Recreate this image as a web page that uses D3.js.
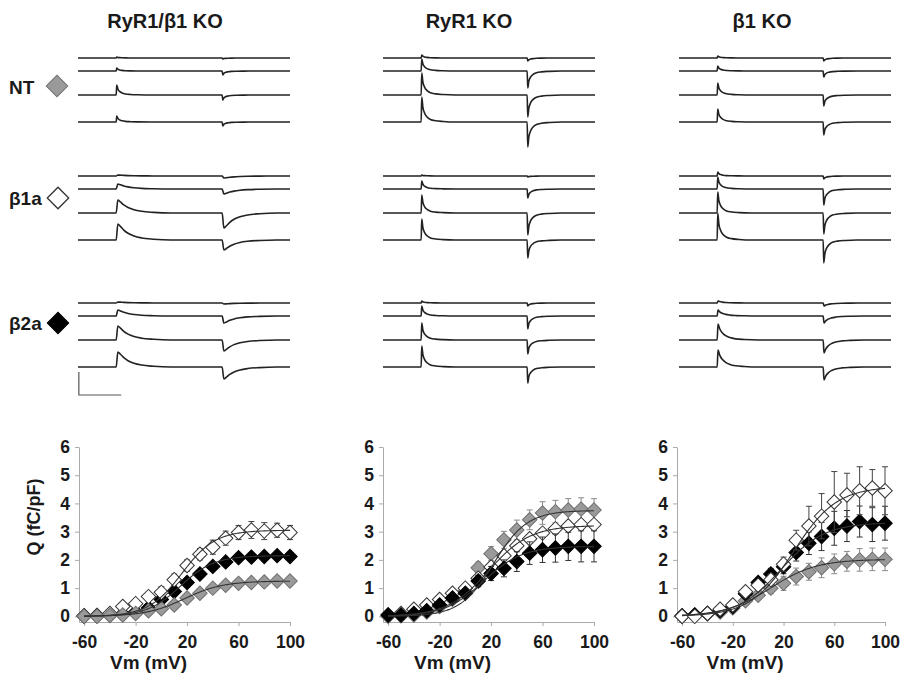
<!DOCTYPE html>
<html>
<head>
<meta charset="utf-8">
<script src="https://cdn.jsdelivr.net/npm/d3@7"></script>
<style>
  body { margin: 0; background: #fff; }
  text { font-family: "Liberation Sans", Arial, sans-serif; font-weight: bold; fill: #1a1a1a; }
</style>
</head>
<body>
<svg id="fig" width="902" height="677"></svg>
<script>
// ---- data ----
const panelTitles = ["RyR1/\u03b21 KO", "RyR1 KO", "\u03b21 KO"];
const conditions = ["NT", "\u03b21a", "\u03b22a"];

// charge movement traces: ON and OFF transient amplitudes (4 test pulses each)
const onRyR1b1 = [[1, 3, 10, 6], [1, 5, 13, 16], [1, 6, 14, 15]];
const offRyR1b1 = [[1, 4, 5, 4], [2, 5, 15, 10], [1, 7, 11, 12]];
const onRyR1 = [[3, 12, 22, 25], [1, 8, 18, 21], [2, 10, 17, 21]];
const offRyR1 = [[3, 17, 22, 25], [1, 9, 22, 18], [3, 13, 14, 16]];
const onB1 = [[2, 5, 12, 13], [4, 12, 21, 27], [2, 6, 16, 17]];
const offB1 = [[3, 6, 11, 13], [3, 16, 21, 23], [3, 7, 13, 13]];

// transient time course (ms after step, normalised amplitude)
const fastT = [0, 0.7, 2, 4, 7, 11, 17, 26, 40];
const fastV = [0, 1, 0.6, 0.36, 0.2, 0.1, 0.05, 0.02, 0];
const midT = [0, 1, 3, 6, 10, 15, 22, 32, 48];
const midV = [0, 1, 0.7, 0.45, 0.27, 0.15, 0.07, 0.03, 0];
const slowT = [0, 2, 5, 9, 14, 21, 30, 44, 64];
const slowV = [0, 1, 0.85, 0.62, 0.42, 0.25, 0.13, 0.05, 0];

// Q-V data
const voltages = [-60, -50, -40, -30, -20, -10, 0, 10, 20, 30, 40, 50, 60, 70, 80, 90, 100];
const xTickValues = [-60, -20, 20, 60, 100];
const yTickValues = [0, 1, 2, 3, 4, 5, 6];

const qNT1 = [0, 0, 0.03, 0.05, 0.1, 0.2, 0.27, 0.4, 0.65, 0.82, 1.0, 1.1, 1.17, 1.2, 1.22, 1.25, 1.25];
const qB1a1 = [0, 0.02, 0.1, 0.35, 0.45, 0.7, 0.85, 1.3, 1.8, 2.2, 2.45, 2.77, 2.97, 3.06, 3.02, 3.05, 2.97];
const qB2a1 = [0.02, 0.03, 0.05, 0.08, 0.15, 0.3, 0.6, 0.88, 1.2, 1.5, 1.77, 1.93, 2.08, 2.1, 2.12, 2.15, 2.12];
const eNT1 = [0.02, 0.02, 0.03, 0.03, 0.05, 0.05, 0.08, 0.08, 0.1, 0.1, 0.12, 0.12, 0.15, 0.15, 0.15, 0.15, 0.15];
const eB1a1 = [0.02, 0.03, 0.05, 0.08, 0.1, 0.12, 0.2, 0.2, 0.2, 0.2, 0.25, 0.25, 0.25, 0.3, 0.3, 0.25, 0.25];
const eB2a1 = [0.02, 0.02, 0.03, 0.03, 0.04, 0.05, 0.06, 0.08, 0.08, 0.1, 0.1, 0.1, 0.12, 0.12, 0.12, 0.12, 0.12];

const qNT2 = [0, 0.02, 0.05, 0.15, 0.35, 0.6, 0.9, 1.72, 2.22, 2.71, 3.06, 3.42, 3.66, 3.71, 3.77, 3.8, 3.77];
const qB1a2 = [0.05, 0.1, 0.25, 0.4, 0.6, 0.82, 1.0, 1.35, 1.75, 2.15, 2.5, 2.75, 2.95, 3.1, 3.2, 3.25, 3.25];
const qB2a2 = [0.05, 0.05, 0.1, 0.2, 0.4, 0.65, 0.82, 1.25, 1.52, 1.7, 1.94, 2.24, 2.36, 2.42, 2.48, 2.48, 2.48];
const eNT2 = [0.02, 0.02, 0.03, 0.05, 0.08, 0.1, 0.15, 0.2, 0.25, 0.3, 0.35, 0.35, 0.4, 0.4, 0.4, 0.4, 0.4];
const eB1a2 = [0.02, 0.02, 0.03, 0.05, 0.05, 0.08, 0.1, 0.1, 0.12, 0.12, 0.15, 0.15, 0.15, 0.15, 0.15, 0.15, 0.15];
const eB2a2 = [0.02, 0.03, 0.05, 0.05, 0.08, 0.1, 0.12, 0.2, 0.25, 0.3, 0.35, 0.4, 0.45, 0.5, 0.5, 0.55, 0.55];

const qNT3 = [0, 0.05, 0.1, 0.15, 0.3, 0.55, 0.75, 1.0, 1.17, 1.41, 1.58, 1.72, 1.86, 1.95, 2.0, 2.02, 2.02];
const qB1a3 = [0, 0, 0.1, 0.25, 0.4, 0.87, 1.1, 1.3, 1.85, 2.7, 3.2, 3.55, 4.05, 4.3, 4.45, 4.55, 4.45];
const qB2a3 = [0.02, 0.05, 0.1, 0.2, 0.35, 0.8, 1.2, 1.5, 1.76, 2.26, 2.59, 2.83, 3.12, 3.2, 3.36, 3.25, 3.3];
const eNT3 = [0.02, 0.02, 0.03, 0.05, 0.08, 0.1, 0.15, 0.2, 0.25, 0.3, 0.3, 0.35, 0.35, 0.35, 0.4, 0.4, 0.4];
const eB1a3 = [0.02, 0.02, 0.05, 0.05, 0.08, 0.1, 0.15, 0.2, 0.25, 0.35, 0.7, 0.8, 1.08, 0.77, 0.85, 0.65, 0.85];
const eB2a3 = [0.02, 0.02, 0.05, 0.05, 0.08, 0.1, 0.15, 0.2, 0.25, 0.3, 0.4, 0.5, 0.6, 0.55, 0.55, 0.6, 0.6];

// Boltzmann fit parameters [NT, b1a, b2a]
const fitQmax1 = [1.25, 3.05, 2.15], fitVhalf1 = [18, 16, 15], fitK1 = [15, 13, 13];
const fitQmax2 = [3.75, 3.22, 2.48], fitVhalf2 = [22, 18, 14], fitK2 = [13, 16, 15];
const fitQmax3 = [2.02, 4.6, 3.32], fitVhalf3 = [10, 28, 18], fitK3 = [18, 17, 17];

// ---- layout ----
const svg = d3.select("#fig");
const traceX0 = [78, 383, 679];
const traceW = 212;
const condTop = [58, 176, 303];
const rowOffset = [0, 13, 37, 64];
const plotX0 = [79, 383, 677];
const plotW = [211, 211, 208];

const panelOn = [onRyR1b1, onRyR1, onB1];
const panelOff = [offRyR1b1, offRyR1, offB1];
const kernels = {
  fast: [fastT, fastV], mid: [midT, midV], slow: [slowT, slowV]
};
const kernelUse = [["fast", "slow", "slow"], ["fast", "fast", "fast"], ["fast", "fast", "mid"]];

const panelQ = [[qNT1, qB1a1, qB2a1], [qNT2, qB1a2, qB2a2], [qNT3, qB1a3, qB2a3]];
const panelE = [[eNT1, eB1a1, eB2a1], [eNT2, eB1a2, eB2a2], [eNT3, eB1a3, eB2a3]];
const panelFit = [[fitQmax1, fitVhalf1, fitK1], [fitQmax2, fitVhalf2, fitK2], [fitQmax3, fitVhalf3, fitK3]];
const drawOrder = [[2, 1, 0], [0, 1, 2], [0, 2, 1]];

const markFill = ["#9a9a9a", "#fff", "#000"];
const markStroke = ["#707070", "#333", "#000"];
const barColor = ["#8a8a8a", "#444", "#333"];

const diamond = (size) => d3.symbol().type(d3.symbolSquare).size(size)();

// ---- titles ----
const titleX = [165, 469, 762];
svg.selectAll(".title").data(panelTitles).enter().append("text")
  .attr("class", "title")
  .attr("x", (d, i) => titleX[i])
  .attr("y", 28)
  .attr("text-anchor", "middle")
  .attr("font-size", 20)
  .text(d => d);

// ---- row labels ----
const labelY = [94, 205, 330];
const labelMarkX = [57, 58, 58];
const labelMarkY = [86, 198, 323];
conditions.forEach((c, i) => {
  svg.append("text").attr("x", 9).attr("y", labelY[i]).attr("font-size", 19).text(c);
  svg.append("path")
    .attr("d", diamond(230))
    .attr("transform", `translate(${labelMarkX[i]},${labelMarkY[i]}) rotate(45)`)
    .attr("fill", markFill[i])
    .attr("stroke", markStroke[i])
    .attr("stroke-width", i === 1 ? 1.3 : 1);
});

// ---- traces ----
const tOn = 45, tOff = 170;
const ampScale = d3.scaleLinear().domain([0, 10]).range([0, 10]);

function tracePoints(on, off, kT, kV) {
  const pts = [[0, 0], [tOn, 0]];
  for (let i = 1; i < kT.length; i++) pts.push([tOn + kT[i], on * kV[i]]);
  pts.push([tOff, 0]);
  for (let i = 1; i < kT.length; i++) pts.push([tOff + kT[i], -off * kV[i]]);
  pts.push([250, 0]);
  return pts;
}

panelOn.forEach((onSet, p) => {
  const tx = d3.scaleLinear().domain([0, 250]).range([traceX0[p], traceX0[p] + traceW]);
  onSet.forEach((onRow, c) => {
    const [kT, kV] = kernels[kernelUse[p][c]];
    onRow.forEach((onAmp, r) => {
      const base = condTop[c] + rowOffset[r];
      const line = d3.line()
        .x(d => tx(d[0]))
        .y(d => base - ampScale(d[1]))
        .curve(d3.curveMonotoneX);
      svg.append("path")
        .attr("d", line(tracePoints(onAmp, panelOff[p][c][r], kT, kV)))
        .attr("fill", "none")
        .attr("stroke", "#222")
        .attr("stroke-width", 1.6);
    });
  });
});

// scale bar (50 ms)
const sbx = d3.scaleLinear().domain([0, 250]).range([traceX0[0], traceX0[0] + traceW]);
svg.append("path")
  .attr("d", `M${sbx(1)},${372}V${395}H${sbx(51)}`)
  .attr("fill", "none")
  .attr("stroke", "#555")
  .attr("stroke-width", 1.2);

// ---- Q-V plots ----
const y = d3.scaleLinear().domain([-0.2, 6]).range([622, 447]);
const plainFmt = d => String(d);

panelQ.forEach((qSet, p) => {
  const x = d3.scaleLinear().domain([-64, 100]).range([plotX0[p], plotX0[p] + plotW[p]]);
  const g = svg.append("g");

  const yAxis = g.append("g")
    .attr("transform", `translate(${plotX0[p]},0)`)
    .call(d3.axisLeft(y).tickValues(yTickValues).tickFormat(plainFmt).tickSize(4).tickSizeOuter(0).tickPadding(5));
  const xAxis = g.append("g")
    .attr("transform", `translate(0,${y(-0.2)})`)
    .call(d3.axisBottom(x).tickValues(xTickValues).tickFormat(plainFmt).tickSize(4).tickSizeOuter(0).tickPadding(10));
  [yAxis, xAxis].forEach(a => {
    a.attr("font-family", null).attr("font-size", 17.5);
    a.selectAll("path, line").attr("stroke", "#aaa");
    a.selectAll("text").attr("fill", "#1a1a1a");
  });

  const [qmax, vh, kk] = panelFit[p];
  drawOrder[p].forEach(c => {
    const q = qSet[c], e = panelE[p][c];
    const pts = voltages.map((v, i) => ({ v: v, q: q[i], e: e[i] }));
    // error bars
    const eb = g.append("g").attr("stroke", barColor[c]).attr("stroke-width", 1);
    pts.forEach(d => {
      if (d.e < 0.12) return;
      const cx = x(d.v);
      eb.append("line").attr("x1", cx).attr("x2", cx).attr("y1", y(d.q - d.e)).attr("y2", y(d.q + d.e));
      eb.append("line").attr("x1", cx - 3).attr("x2", cx + 3).attr("y1", y(d.q + d.e)).attr("y2", y(d.q + d.e));
      eb.append("line").attr("x1", cx - 3).attr("x2", cx + 3).attr("y1", y(d.q - d.e)).attr("y2", y(d.q - d.e));
    });
    g.append("g").selectAll("path").data(pts).enter().append("path")
      .attr("d", diamond(105))
      .attr("transform", d => `translate(${x(d.v)},${y(d.q)}) rotate(45)`)
      .attr("fill", markFill[c])
      .attr("stroke", markStroke[c])
      .attr("stroke-width", 1);
  });

  // Boltzmann fits
  [0, 1, 2].forEach(c => {
    const vs = d3.range(-60, 100.5, 1);
    const fit = d3.line()
      .x(v => x(v))
      .y(v => y(qmax[c] / (1 + Math.exp((vh[c] - v) / kk[c]))));
    g.append("path")
      .attr("d", fit(vs))
      .attr("fill", "none")
      .attr("stroke", "#333")
      .attr("stroke-width", 1.1);
  });

  g.append("text")
    .attr("x", plotX0[p] + plotW[p] / 2 - 36)
    .attr("y", 669)
    .attr("text-anchor", "middle")
    .attr("font-size", 19)
    .text("Vm (mV)");
});

svg.append("text")
  .attr("transform", "translate(40,517) rotate(-90)")
  .attr("text-anchor", "middle")
  .attr("font-size", 18)
  .text("Q (fC/pF)");
</script>
</body>
</html>
